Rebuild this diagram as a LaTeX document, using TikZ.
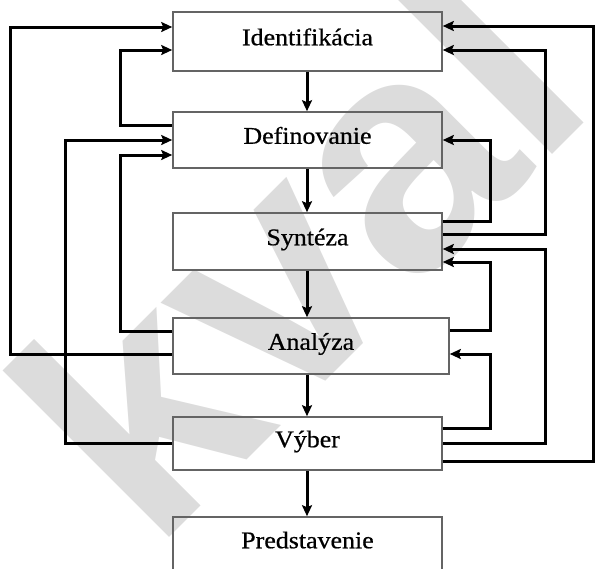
\documentclass[tikz,border=0pt]{standalone}
\usepackage{fontspec}
\setmainfont{Liberation Serif}[FakeBold=0.6]
\newfontfamily\wmfont{Liberation Sans}
\usetikzlibrary{arrows.meta}
\definecolor{boxline}{RGB}{100,100,100}
\definecolor{wmgray}{RGB}{220,220,220}
\newcommand\boxtext[1]{\scalebox{1.08}[1]{#1}}
\begin{document}
\begin{tikzpicture}[x=1pt,y=-1pt,
  box/.style={draw=boxline, line width=1.6pt, inner sep=0pt,
    text height=14pt, text depth=6.5pt, font=\fontsize{24}{28}\selectfont},
  conn/.style={line width=3pt, -{Stealth[length=11pt,width=10pt,inset=2pt]}},
  wm/.style={text=wmgray, inner sep=0pt, anchor=base west, rotate=45,
    font=\wmfont\bfseries\fontsize{325}{325}\selectfont}]
\useasboundingbox (0,0) rectangle (596,568);

% background mark
\node[wm] (mark) at (153.5,553.5) {kval};

% process steps
\node[box, minimum width=269pt, minimum height=59pt] (I) at (307.5,41.5) {\boxtext{Identifikácia}};
\node[box, minimum width=269pt, minimum height=56pt] (D) at (307.5,140) {\boxtext{Definovanie}};
\node[box, minimum width=269pt, minimum height=57pt] (S) at (307.5,241.5) {\boxtext{Syntéza}};
\node[box, minimum width=276pt, minimum height=56pt] (A) at (311,346) {\boxtext{Analýza}};
\node[box, minimum width=269pt, minimum height=53pt] (V) at (307.5,443.5) {\boxtext{Výber}};
\node[box, minimum width=269pt, minimum height=55pt] (P) at (307.5,544.5) {\boxtext{Predstavenie}};

% main flow
\draw[conn] (I.south -| 307,0) -- (D.north -| 307,0);
\draw[conn] (D.south -| 307,0) -- (S.north -| 307,0);
\draw[conn] (S.south -| 307,0) -- (A.north -| 307,0);
\draw[conn] (A.south -| 307,0) -- (V.north -| 307,0);
\draw[conn] (V.south -| 307,0) -- (P.north -| 307,0);

% feedback on the left
\draw[conn] (A.west |- 0,354) -- (10,354) |- (I.west |- 0,27);
\draw[conn] (D.west |- 0,125) -- (120,125) |- (I.west |- 0,50);
\draw[conn] (V.west |- 0,443) -- (65,443) |- (D.west |- 0,140);
\draw[conn] (A.west |- 0,331) -- (120,331) |- (D.west |- 0,155);

% feedback on the right
\draw[conn] (V.east |- 0,461) -- (593.5,461) |- (I.east |- 0,26);
\draw[conn] (S.east |- 0,234) -- (545,234) |- (I.east |- 0,50);
\draw[conn] (S.east |- 0,221) -- (490,221) |- (D.east |- 0,140);
\draw[conn] (V.east |- 0,443) -- (545,443) |- (S.east |- 0,249);
\draw[conn] (A.east |- 0,330) -- (490,330) |- (S.east |- 0,262);
\draw[conn] (V.east |- 0,428) -- (490,428) |- (A.east |- 0,354);
\end{tikzpicture}
\end{document}
